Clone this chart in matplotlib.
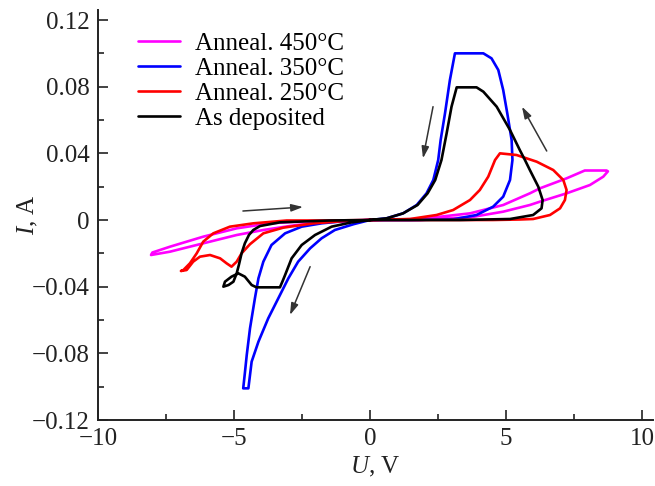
"""
I-V hysteresis curves for films annealed at different temperatures
"""
import matplotlib
matplotlib.use('Agg')
import matplotlib.pyplot as plt
from matplotlib.ticker import MultipleLocator, FuncFormatter

plt.rcParams['font.family'] = ['Liberation Serif', 'DejaVu Serif']
plt.rcParams['mathtext.fontset'] = 'custom'
plt.rcParams['mathtext.rm'] = 'Liberation Serif'
plt.rcParams['mathtext.it'] = 'Liberation Serif:italic'

# --- data (U in V, I in A) ---
u_450 = [0, 1.84, 3.68, 4.9, 5.88, 6.25, 7.23, 8.09, 8.58, 8.75, 8.7, 7.9,
         7.23, 6.25, 5.88, 4.9, 3.68, 1.84, 0,
         -1.5, -2.7, -3.92, -4.9, -6.13, -7.35, -8.05, -8.0, -7.35, -6.13,
         -4.9, -3.68, -2.5, 0]
i_450 = [0, 0.0, 0.0016, 0.005, 0.009, 0.011, 0.016, 0.021, 0.026, 0.0292,
         0.0297, 0.0297, 0.025, 0.019, 0.016, 0.009, 0.004, 0.0006, 0,
         -0.0012, -0.003, -0.006, -0.009, -0.014, -0.019, -0.021, -0.0195,
         -0.016, -0.010, -0.005, -0.002, -0.0008, 0]

u_350 = [0, 1.5, 3.06, 3.92, 4.53, 4.9, 5.15, 5.24, 5.21, 5.05, 4.9, 4.72,
         4.47, 4.17, 3.125, 2.94, 2.76, 2.6, 2.51, 2.33, 2.08, 1.72, 1.22,
         0.61, 0,
         -0.6, -1.29, -1.78, -2.2, -2.64, -3.0, -3.37, -3.74, -4.1, -4.35,
         -4.47, -4.66, -4.6, -4.53, -4.41, -4.23, -4.1, -3.92, -3.62, -3.12,
         -2.51, -1.78, -0.9, 0]
i_350 = [0, 0.0, 0.0004, 0.003, 0.008, 0.014, 0.024, 0.036, 0.048, 0.064,
         0.078, 0.090, 0.097, 0.1, 0.1, 0.084, 0.064, 0.048, 0.036, 0.024,
         0.016, 0.009, 0.004, 0.001, 0,
         -0.0025, -0.006, -0.011, -0.017, -0.025, -0.035, -0.047, -0.059,
         -0.073, -0.085, -0.101, -0.101, -0.092, -0.081, -0.065, -0.047,
         -0.035, -0.025, -0.015, -0.008, -0.004, -0.002, -0.0006, 0]

u_250 = [0, 3.0, 4.53, 5.5, 6.0, 6.62, 6.99, 7.17, 7.23, 7.11, 6.74, 6.13,
         5.39, 4.78, 4.6, 4.35, 4.04, 3.68, 3.06, 2.45, 1.47, 0,
         -1.5, -3.06, -4.29, -5.15, -5.76, -6.13, -6.37, -6.62, -6.86, -6.95,
         -6.74, -6.5, -6.25, -5.88, -5.51, -5.27, -5.09, -4.9, -4.72, -4.41,
         -3.92, -3.19, -2.08, -1.0, 0]
i_250 = [0, 0.0, 0.0, 0.0003, 0.0006, 0.003, 0.007, 0.012, 0.018, 0.024,
         0.030, 0.035, 0.039, 0.040, 0.036, 0.026, 0.018, 0.012, 0.006, 0.003,
         0.0006, 0,
         -0.0003, -0.0003, -0.002, -0.004, -0.008, -0.013, -0.020, -0.026,
         -0.030, -0.0306, -0.030, -0.025, -0.022, -0.021, -0.023, -0.026,
         -0.028, -0.025, -0.020, -0.0145, -0.008, -0.0046, -0.002, -0.0007, 0]

u_dep = [0, 3.3, 5.15, 6.0, 6.31, 6.35, 6.19, 5.88, 5.7, 5.51, 5.15, 4.66,
         4.17, 3.92, 3.19, 3.0, 2.82, 2.63, 2.4, 2.12, 1.75, 1.22, 0.61, 0,
         -0.7, -1.41, -2.02, -2.51, -2.88, -3.12, -3.22, -3.31, -4.17, -4.35,
         -4.6, -4.84, -5.09, -5.33, -5.39, -5.2, -5.02, -4.9, -4.82, -4.72,
         -4.6, -4.45, -4.29, -4.04, -3.31, -1.5, 0]
i_dep = [0, 0.0, 0.0006, 0.003, 0.007, 0.012, 0.020, 0.030, 0.036, 0.042,
         0.054, 0.068, 0.077, 0.0796, 0.0796, 0.068, 0.052, 0.036, 0.024,
         0.016, 0.009, 0.004, 0.001, 0,
         -0.0015, -0.004, -0.009, -0.015, -0.023, -0.033, -0.037, -0.0404,
         -0.0404, -0.039, -0.034, -0.032, -0.034, -0.037, -0.040, -0.039,
         -0.037, -0.032, -0.027, -0.020, -0.014, -0.009, -0.006, -0.0036,
         -0.0014, -0.0003, 0]

labels = ['Anneal. 450°C', 'Anneal. 350°C', 'Anneal. 250°C', 'As deposited']
colors = ['#ff00ff', '#0000ff', '#ff0000', '#000000']

# sweep direction arrows: (start U, start I, end U, end I)
arrows = [(-4.67, 0.0054, -2.46, 0.0078),
          (-2.2, -0.028, -2.94, -0.057),
          (2.32, 0.068, 1.95, 0.037),
          (6.5, 0.0414, 5.59, 0.068)]


def fmt_tick(v, pos):
    if abs(v) < 1e-9:
        return '0'
    s = f'{abs(v):.2f}' if abs(v) < 1 else f'{abs(v):.0f}'
    return ('\u2212' if v < 0 else '') + s


fig = plt.figure(figsize=(6.55, 4.86), dpi=100)
ax = fig.add_axes([0.1496, 0.1358, 0.847, 0.8436])

series = [(u_450, i_450), (u_350, i_350), (u_250, i_250), (u_dep, i_dep)]
for (u, i), lab, col in zip(series, labels, colors):
    ax.plot(u, i, color=col, linewidth=1.9, label=lab,
            solid_joinstyle='round', solid_capstyle='round')

for x0, y0, x1, y1 in arrows:
    ax.annotate('', xy=(x1, y1), xytext=(x0, y0),
                arrowprops=dict(arrowstyle='-|>,head_length=0.7,head_width=0.22',
                                color='#333333', lw=1.1, shrinkA=0, shrinkB=0))

ax.set_xlim(-10, 10.4)
ax.set_ylim(-0.12, 0.126)
ax.spines['top'].set_visible(False)
ax.spines['right'].set_visible(False)
for sp in ('left', 'bottom'):
    ax.spines[sp].set_linewidth(1.4)
    ax.spines[sp].set_color('#222222')

ax.xaxis.set_major_locator(MultipleLocator(5))
ax.xaxis.set_minor_locator(MultipleLocator(2.5))
ax.yaxis.set_major_locator(MultipleLocator(0.04))
ax.yaxis.set_minor_locator(MultipleLocator(0.02))
ax.xaxis.set_major_formatter(FuncFormatter(fmt_tick))
ax.yaxis.set_major_formatter(FuncFormatter(fmt_tick))
ax.tick_params(which='both', direction='in', width=1.2, colors='#222222',
               labelsize=18, labelcolor='#222222')
ax.tick_params(which='major', length=7)
ax.tick_params(which='minor', length=4.5)
ax.tick_params(axis='y', pad=6)
ax.tick_params(axis='x', pad=6)

ax.set_xlabel('$U$, V', fontsize=18, color='#222222', labelpad=3)
ax.set_ylabel('$I$, A', fontsize=18, color='#222222', labelpad=-6)

ax.legend(loc='upper left', bbox_to_anchor=(0.072, 0.946), frameon=False,
          fontsize=18, handlelength=1.67, handletextpad=0.6, borderpad=0,
          borderaxespad=0, labelspacing=0.1)

fig.savefig('out.png', dpi=100)
